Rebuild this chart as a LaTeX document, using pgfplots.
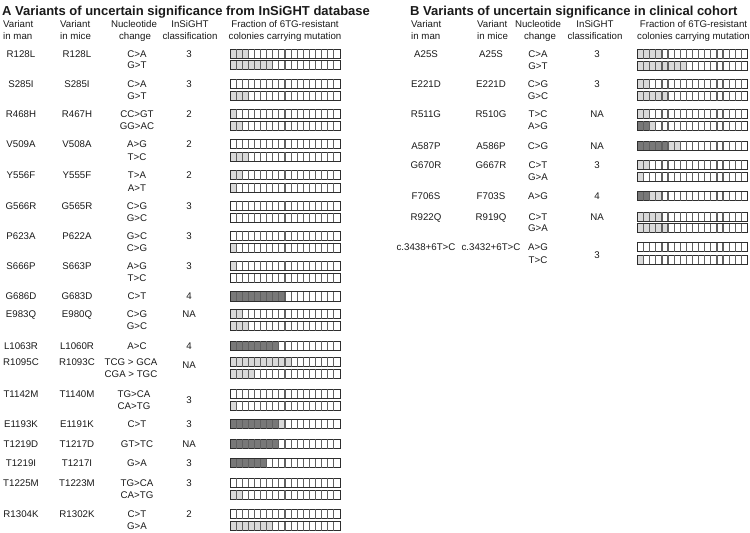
\documentclass[border=0pt]{standalone}
\usepackage{pgfplots}
\pgfplotsset{compat=1.18}
\usepackage{pgfplotstable}
\usepackage{fontspec}
\setmainfont{Liberation Sans}
\definecolor{lightcell}{HTML}{D9D9D9}
\definecolor{darkcell}{HTML}{787878}
\definecolor{celldiv}{HTML}{606060}
\definecolor{cellout}{HTML}{2E2E2E}
\definecolor{txt}{HTML}{1A1A1A}

% y = row position (px from top), dark = dark cells, light = light cells (of 18)
\pgfplotstableread{
y dark light
53.7 0 3
65.3 0 7
83.7 0 0
95.7 0 3
113.7 0 1
126.3 0 2
144.3 0 0
156.7 0 3
175.0 0 2
187.7 0 1
205.7 0 0
217.7 0 0
236.0 0 0
248.3 0 1
265.7 0 1
278.3 0 0
296.5 9 0
314.3 0 2
326.3 0 3
345.7 8 0
362.0 0 10
374.0 0 4
393.7 0 0
406.0 0 1
424.3 8 1
444.0 8 0
463.3 6 0
482.7 0 0
495.0 0 2
514.0 0 0
526.3 0 7
}\cellsA

\pgfplotstableread{
y dark light
54.0 0 4
65.7 0 8
84.0 0 2
96.0 0 5
114.0 0 2
126.0 2 1
145.7 5 2
164.7 0 2
176.7 0 1
196.3 2 2
216.7 0 4
228.3 0 5
247.3 0 0
259.7 0 1
}\cellsB

\newcommand{\fsz}{\fontsize{9.7}{11}\selectfont}
\pgfplotsset{
  cellaxis/.style={hide axis, scale only axis, width=110pt, height=533pt,
    xmin=0, xmax=18, ymin=0, ymax=533, y dir=reverse, clip=false, anchor=north west},
}
\newcommand{\drawcells}[1]{%
  \addplot[xbar, bar width=9.3, bar shift=0pt, fill=lightcell, draw=none]
    table[x expr=\thisrow{dark}+\thisrow{light}, y=y]{#1};
  \addplot[xbar, bar width=9.3, bar shift=0pt, fill=darkcell, draw=none]
    table[x=dark, y=y]{#1};
  \pgfplotsinvokeforeach{1,...,17}{%
    \addplot[only marks, mark=|, mark size=4.65pt,
      mark options={draw=celldiv, line width=1.15pt}] table[x expr=##1, y=y]{#1};
  }
  \addplot[xbar, bar width=9.3, bar shift=0pt, fill=none, draw=cellout, line width=1pt]
    table[x expr=18, y=y]{#1};
}
\begin{document}
\begin{tikzpicture}[
  lbl/.style={anchor=base, inner sep=0pt, font=\fsz, text=txt, yshift=-3.45pt},
  hdr/.style={anchor=base, inner sep=0pt, font=\fsz, text=txt},
  hdrw/.style={anchor=base west, inner sep=0pt, font=\fsz, text=txt},
  ttl/.style={anchor=base west, inner sep=0pt, font=\fontsize{13}{15}\selectfont\bfseries, text=txt}]
\begin{axis}[hide axis, scale only axis, width=750pt, height=533pt,
  xmin=0, xmax=750, ymin=0, ymax=533, y dir=reverse, clip=false,
  at={(0,0)}, anchor=north west]
\path (axis cs:0,0) rectangle (axis cs:750,533);
% ---------- Panel A ----------
\node[ttl] at (axis cs:2,15) {A Variants of uncertain significance from InSiGHT database};
\node[hdrw] at (axis cs:3,27.5) {Variant};
\node[hdrw] at (axis cs:3,39) {in man};
\node[hdrw] at (axis cs:60,27.5) {Variant};
\node[hdrw] at (axis cs:60,39) {in mice};
\node[hdr] at (axis cs:134,27.5) {Nucleotide};
\node[hdr] at (axis cs:135,39) {change};
\node[hdr] at (axis cs:190,27.5) {InSiGHT};
\node[hdr] at (axis cs:190,39) {classification};
\node[hdr] at (axis cs:285,27.5) {Fraction of 6TG-resistant};
\node[hdr] at (axis cs:285,39) {colonies carrying mutation};
% rows
\foreach \ya/\yb/\man/\mice/\na/\nb/\cl in {
  53.7/65.3/R128L/R128L/C>A/G>T/3,
  83.7/95.7/S285I/S285I/C>A/G>T/3,
  113.7/126.3/R468H/R467H/CC>GT/GG>AC/2,
  144.3/156.7/V509A/V508A/A>G/T>C/2,
  175.0/187.7/Y556F/Y555F/T>A/A>T/2,
  205.7/217.7/G566R/G565R/C>G/G>C/3,
  236.0/248.3/P623A/P622A/G>C/C>G/3,
  265.7/278.3/S666P/S663P/A>G/T>C/3,
  296.5/296.5/G686D/G683D/C>T//4,
  314.3/326.3/E983Q/E980Q/C>G/G>C/NA,
  345.7/345.7/L1063R/L1060R/A>C//4,
  424.3/424.3/E1193K/E1191K/C>T//3,
  444.0/444.0/T1219D/T1217D/GT>TC//NA,
  463.3/463.3/T1219I/T1217I/G>A//3,
  482.7/495.0/T1225M/T1223M/TG>CA/CA>TG/3,
  514.0/526.3/R1304K/R1302K/C>T/G>A/2}{
  \edef\tmp{%
  \noexpand\node[lbl] at (axis cs:21,\ya) {\man};
  \noexpand\node[lbl] at (axis cs:77,\ya) {\mice};
  \noexpand\node[lbl] at (axis cs:137,\ya) {\na};
  \noexpand\node[lbl] at (axis cs:137,\yb) {\nb};
  \noexpand\node[lbl] at (axis cs:189,\ya) {\cl};}\tmp
}
\node[lbl] at (axis cs:21,362) {R1095C};
\node[lbl] at (axis cs:77,362) {R1093C};
\node[lbl] at (axis cs:131,362) {TCG > GCA};
\node[lbl] at (axis cs:131,374) {CGA > TGC};
\node[lbl] at (axis cs:189,365) {NA};
\node[lbl] at (axis cs:21,393.7) {T1142M};
\node[lbl] at (axis cs:77,393.7) {T1140M};
\node[lbl] at (axis cs:134,393.7) {TG>CA};
\node[lbl] at (axis cs:134,406) {CA>TG};
\node[lbl] at (axis cs:189,400) {3};
% ---------- Panel B ----------
\node[ttl] at (axis cs:410,15) {B Variants of uncertain significance in clinical cohort};
\node[hdrw] at (axis cs:411,27.5) {Variant};
\node[hdrw] at (axis cs:411,39) {in man};
\node[hdrw] at (axis cs:477,27.5) {Variant};
\node[hdrw] at (axis cs:477,39) {in mice};
\node[hdr] at (axis cs:538,27.5) {Nucleotide};
\node[hdr] at (axis cs:540,39) {change};
\node[hdr] at (axis cs:595,27.5) {InSiGHT};
\node[hdr] at (axis cs:595,39) {classification};
\node[hdr] at (axis cs:693.5,27.5) {Fraction of 6TG-resistant};
\node[hdr] at (axis cs:693.5,39) {colonies carrying mutation};
\foreach \ya/\yb/\man/\mice/\na/\nb/\cl in {
  54.0/65.7/A25S/A25S/C>A/G>T/3,
  84.0/96.0/E221D/E221D/C>G/G>C/3,
  114.0/126.0/R511G/R510G/T>C/A>G/NA,
  145.7/145.7/A587P/A586P/C>G//NA,
  164.7/176.7/G670R/G667R/C>T/G>A/3,
  196.3/196.3/F706S/F703S/A>G//4,
  216.7/228.3/R922Q/R919Q/C>T/G>A/NA}{
  \edef\tmp{%
  \noexpand\node[lbl] at (axis cs:426,\ya) {\man};
  \noexpand\node[lbl] at (axis cs:491,\ya) {\mice};
  \noexpand\node[lbl] at (axis cs:538,\ya) {\na};
  \noexpand\node[lbl] at (axis cs:538,\yb) {\nb};
  \noexpand\node[lbl] at (axis cs:597,\ya) {\cl};}\tmp
}
\node[lbl] at (axis cs:426,247.3) {c.3438+6T>C};
\node[lbl] at (axis cs:491,247.3) {c.3432+6T>C};
\node[lbl] at (axis cs:538,247.3) {A>G};
\node[lbl] at (axis cs:538,259.7) {T>C};
\node[lbl] at (axis cs:597,255) {3};
\end{axis}
\begin{axis}[cellaxis, at={(230pt,0pt)}]
\drawcells{\cellsA}
\end{axis}
\begin{axis}[cellaxis, at={(637.5pt,0pt)}]
\drawcells{\cellsB}
\end{axis}
\end{tikzpicture}
\end{document}
